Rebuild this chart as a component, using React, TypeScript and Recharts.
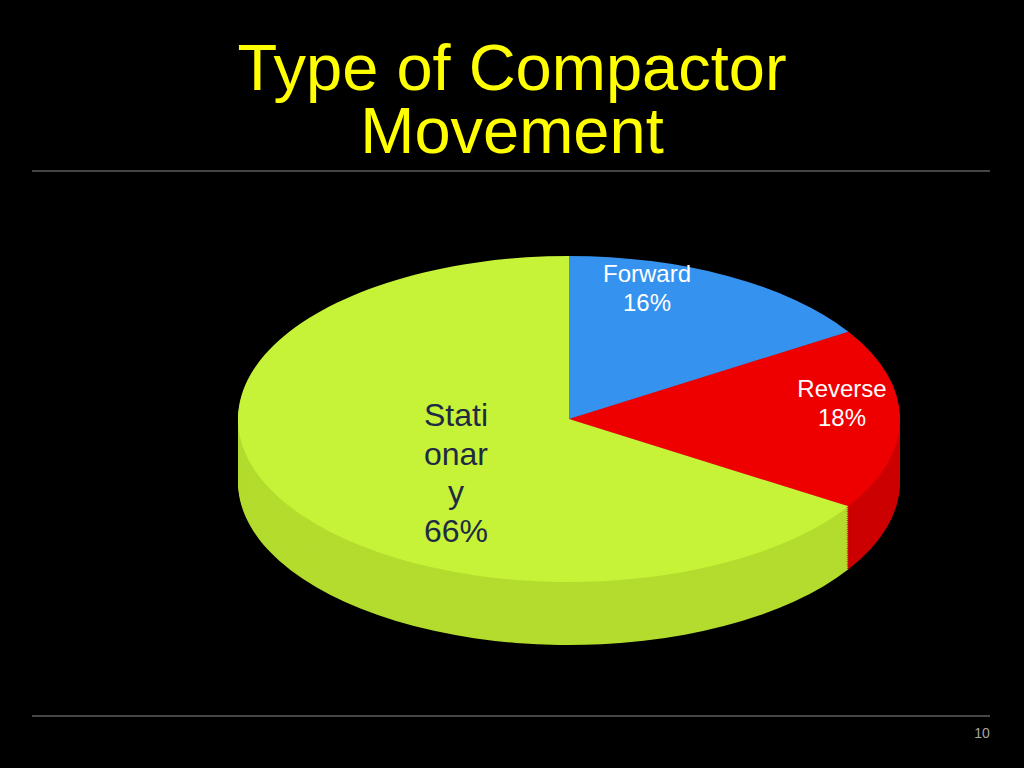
import React from 'react';
import { PieChart, Pie, Cell } from 'recharts';

const categories = ['Forward', 'Reverse', 'Stationary'];
const shares = [16, 18, 66];
const topColors = ['#3592ee', '#ee0000', '#c6f337'];
const sideColors = ['#2a74bd', '#cc0000', '#b3dc2e'];

const data = categories.map((name, i) => ({ name, value: shares[i] }));

// the pie is drawn as a circle, then squashed vertically to fake the 3D tilt
const TILT = 0.4925;
const RADIUS = 331;
const CX = 569;
const TOP_Y = 419;
const DEPTH = 63;
const cyTop = TOP_Y / TILT;
const depthSteps = Array.from({ length: 34 }, (_, i) => 34 - i);

const labelLines = [
  { lines: ['Forward', '16%'], x: 647, y: 282, size: 24, color: '#ffffff', step: 29 },
  { lines: ['Reverse', '18%'], x: 842, y: 397, size: 24, color: '#ffffff', step: 29 },
  { lines: ['Stati', 'onar', 'y', '66%'], x: 456, y: 426, size: 32, color: '#1f2a44', step: 38.7 },
];

const App: React.FC = () => {
  return (
    <div
      style={{
        position: 'absolute',
        left: 0,
        top: 0,
        width: 1024,
        height: 768,
        background: '#000000',
        overflow: 'hidden',
        fontFamily: '"Liberation Sans", Arial, sans-serif',
      }}
    >
      <svg width={1024} height={768} style={{ position: 'absolute', left: 0, top: 0 }}>
        <text x={512} y={90} textAnchor="middle" fill="#ffff00" fontSize={65}>
          Type of Compactor
        </text>
        <text x={512} y={153} textAnchor="middle" fill="#ffff00" fontSize={65}>
          Movement
        </text>
        <line x1={32} y1={171} x2={990} y2={171} stroke="#8c8c8c" strokeWidth={1} />
        <line x1={32} y1={716} x2={990} y2={716} stroke="#8c8c8c" strokeWidth={1} />
        <text x={982} y={738} textAnchor="middle" fill="#a6a6a6" fontSize={14}>
          10
        </text>
      </svg>

      <div
        style={{
          position: 'absolute',
          left: 0,
          top: 0,
          width: 1024,
          height: 1400,
          transform: `scaleY(${TILT})`,
          transformOrigin: '0 0',
        }}
      >
        <PieChart width={1024} height={1400} margin={{ top: 0, right: 0, bottom: 0, left: 0 }}>
          {depthSteps.map((k) => (
            <Pie
              key={`side-${k}`}
              data={data}
              dataKey="value"
              nameKey="name"
              cx={CX}
              cy={cyTop + (k * DEPTH) / TILT / depthSteps.length}
              outerRadius={RADIUS}
              startAngle={90}
              endAngle={-270}
              stroke="none"
              isAnimationActive={false}
            >
              {data.map((d, i) => (
                <Cell key={d.name} fill={sideColors[i]} />
              ))}
            </Pie>
          ))}
          <Pie
            data={data}
            dataKey="value"
            nameKey="name"
            cx={CX}
            cy={cyTop}
            outerRadius={RADIUS}
            startAngle={90}
            endAngle={-270}
            stroke="none"
            isAnimationActive={false}
          >
            {data.map((d, i) => (
              <Cell key={d.name} fill={topColors[i]} />
            ))}
          </Pie>
        </PieChart>
      </div>

      <svg width={1024} height={768} style={{ position: 'absolute', left: 0, top: 0, pointerEvents: 'none' }}>
        {labelLines.map((l) => (
          <text key={l.lines[0]} textAnchor="middle" fill={l.color} fontSize={l.size}>
            {l.lines.map((t, j) => (
              <tspan key={j} x={l.x} y={l.y + j * l.step}>
                {t}
              </tspan>
            ))}
          </text>
        ))}
      </svg>
    </div>
  );
};

export default App;
